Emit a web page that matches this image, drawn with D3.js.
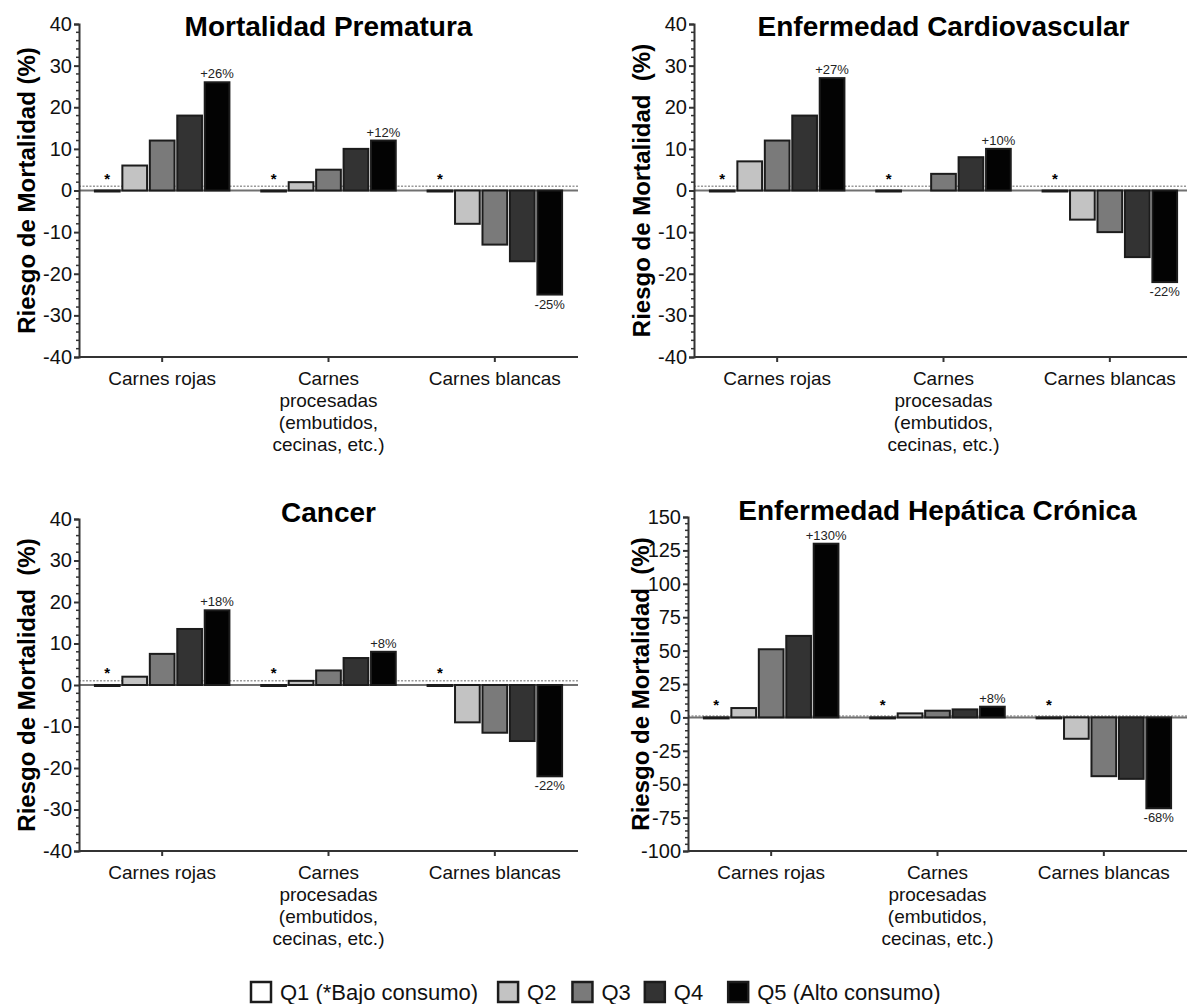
<!DOCTYPE html>
<html>
<head>
<meta charset="utf-8">
<script src="https://cdn.jsdelivr.net/npm/d3@7"></script>
<style>
  body { margin: 0; background: #fff; }
  svg { font-family: "Liberation Sans", Arial, sans-serif; }
  .ylab { white-space: pre; }
</style>
</head>
<body>
<svg id="chart" width="1187" height="1004"></svg>
<script>
// data
var groupLines = [["Carnes rojas"], ["Carnes", "procesadas", "(embutidos,", "cecinas, etc.)"], ["Carnes blancas"]];
var quintiles = ["Q1", "Q2", "Q3", "Q4", "Q5"];
var legendLabels = ["Q1 (*Bajo consumo)", "Q2", "Q3", "Q4", "Q5 (Alto consumo)"];
var titles = ["Mortalidad Prematura", "Enfermedad Cardiovascular", "Cancer", "Enfermedad Hepática Crónica"];
var yTitles = ["Riesgo de Mortalidad (%)", "Riesgo de Mortalidad  (%)", "Riesgo de Mortalidad  (%)", "Riesgo de Mortalidad  (%)"];

var valuesPrematura = [[0, 6, 12, 18, 26], [0, 2, 5, 10, 12], [0, -8, -13, -17, -25]];
var valuesCardio    = [[0, 7, 12, 18, 27], [0, null, 4, 8, 10], [0, -7, -10, -16, -22]];
var valuesCancer    = [[0, 2, 7.5, 13.5, 18], [0, 1, 3.5, 6.5, 8], [0, -9, -11.5, -13.5, -22]];
var valuesHepatica  = [[0, 7, 51, 61, 130], [0, 3, 5, 6, 8], [0, -16, -44, -46, -68]];

var labelsPrematura = ["+26%", "+12%", "-25%"];
var labelsCardio    = ["+27%", "+10%", "-22%"];
var labelsCancer    = ["+18%", "+8%", "-22%"];
var labelsHepatica  = ["+130%", "+8%", "-68%"];

var yDomains = [[-40, 40], [-40, 40], [-40, 40], [-100, 150]];
var yMajor = [10, 10, 10, 25];
var yMinor = [2, 2, 2, 5];

var fills = ["#ffffff", "#c3c3c3", "#7a7a7a", "#333333", "#030303"];

// layout of the four panels
var panels = [
  {x0: 79,  x1: 578,  top: 24,  bottom: 357, ylabX: 27,  values: valuesPrematura, labels: labelsPrematura},
  {x0: 694, x1: 1193, top: 24,  bottom: 357, ylabX: 642, values: valuesCardio,    labels: labelsCardio},
  {x0: 79,  x1: 578,  top: 519, bottom: 851, ylabX: 27,  values: valuesCancer,    labels: labelsCancer},
  {x0: 688, x1: 1187, top: 517, bottom: 851, ylabX: 641, values: valuesHepatica,  labels: labelsHepatica}
];

var svg = d3.select("#chart");

var drawPanel = function(p, k) {
  var g = svg.append("g");
  var x = d3.scaleBand().domain(d3.range(3)).range([p.x0, p.x1]);
  var xq = d3.scaleBand().domain(quintiles).range([-70, 70]).padding(0.1);
  var y = d3.scaleLinear().domain(yDomains[k]).range([p.bottom, p.top]);

  // title
  g.append("text")
   .attr("x", (p.x0 + p.x1) / 2).attr("y", p.top + (k < 2 ? 12 : 3))
   .attr("text-anchor", "middle")
   .style("font-size", "28px").style("font-weight", "bold")
   .text(titles[k]);

  // y title
  g.append("text")
   .attr("class", "ylab")
   .attr("transform", "translate(" + p.ylabX + "," + ((p.top + p.bottom) / 2) + ") rotate(-90)")
   .attr("text-anchor", "middle").attr("dy", "0.35em")
   .style("font-size", "24px").style("font-weight", "bold")
   .text(yTitles[k]);

  // dotted reference line
  g.append("line")
   .attr("x1", p.x0).attr("x2", p.x1)
   .attr("y1", y(1)).attr("y2", y(1))
   .style("stroke", "#9a9a9a").style("stroke-width", 1.5)
   .style("stroke-dasharray", "2,1.5");

  // zero line
  g.append("line")
   .attr("x1", p.x0).attr("x2", p.x1)
   .attr("y1", y(0)).attr("y2", y(0))
   .style("stroke", "#707070").style("stroke-width", 2);

  // bars
  var grp = g.selectAll("g.grp").data(p.values).enter()
    .append("g").attr("class", "grp")
    .attr("transform", function(d, i) { return "translate(" + (x(i) + x.bandwidth() / 2) + ",0)"; });

  grp.selectAll("rect").data(function(d) {
      return d.map(function(v, i) { return {q: quintiles[i], v: v, i: i}; })
              .filter(function(e) { return e.v !== null; });
    }).enter()
    .append("rect")
    .attr("x", function(e) { return xq(e.q); })
    .attr("width", xq.bandwidth())
    .attr("y", function(e) { return Math.min(y(e.v), y(0)); })
    .attr("height", function(e) { return Math.max(1, Math.abs(y(e.v) - y(0))); })
    .style("fill", function(e) { return fills[e.i]; })
    .style("stroke", "#1c1c1c").style("stroke-width", 2);

  // asterisks over Q1
  grp.append("text")
     .attr("x", xq("Q1") + xq.bandwidth() / 2)
     .attr("y", y(0) - 7)
     .attr("text-anchor", "middle")
     .style("font-size", "15px").style("font-weight", "bold")
     .text("*");

  // percent labels on Q5
  grp.append("text")
     .attr("x", xq("Q5") + xq.bandwidth() / 2)
     .attr("y", function(d) { var v = d[4]; return v >= 0 ? y(v) - 4 : y(v) + 14; })
     .attr("text-anchor", "middle")
     .style("font-size", "13px").style("fill", "#222")
     .text(function(d, i) { return p.labels[i]; });

  // y axis
  var yAxis = g.append("g").attr("transform", "translate(" + p.x0 + ",0)")
    .call(d3.axisLeft(y).tickValues(d3.range(yDomains[k][0], yDomains[k][1] + 0.01, yMajor[k]))
          .tickSize(5).tickPadding(2).tickFormat(function(v) { return String(v); }));
  yAxis.select(".domain").style("stroke", "#333").style("stroke-width", 2);
  yAxis.selectAll(".tick line").style("stroke", "#333").style("stroke-width", 2);
  yAxis.selectAll(".tick text").style("font-size", "20px").style("fill", "#111")
       .attr("font-family", "Liberation Sans, Arial, sans-serif");

  // minor ticks
  var minors = d3.range(yDomains[k][0], yDomains[k][1] + 0.01, yMinor[k])
                 .filter(function(v) { return v % yMajor[k] !== 0; });
  g.selectAll("line.minor").data(minors).enter()
   .append("line").attr("class", "minor")
   .attr("x1", p.x0 - 3).attr("x2", p.x0)
   .attr("y1", function(v) { return y(v); }).attr("y2", function(v) { return y(v); })
   .style("stroke", "#333").style("stroke-width", 1.5);

  // x axis
  var xAxis = g.append("g").attr("transform", "translate(0," + p.bottom + ")")
    .call(d3.axisBottom(x).tickSize(5).tickFormat(""));
  xAxis.select(".domain").attr("d", "M" + p.x0 + ",0H" + p.x1)
       .style("stroke", "#333").style("stroke-width", 2);
  xAxis.selectAll(".tick line").style("stroke", "#333").style("stroke-width", 2);

  // x labels
  g.selectAll("text.xlab").data(groupLines).enter()
   .append("text").attr("class", "xlab")
   .attr("text-anchor", "middle")
   .style("font-size", "19px").style("fill", "#111")
   .each(function(lines, i) {
     d3.select(this).selectAll("tspan").data(lines).enter()
       .append("tspan")
       .attr("x", x(i) + x.bandwidth() / 2)
       .attr("y", function(l, j) { return p.bottom + 28 + j * 22; })
       .text(function(l) { return l; });
   });
};

panels.forEach(drawPanel);

// legend
var legend = svg.append("g");
var items = legend.selectAll("g.item").data(legendLabels).enter()
  .append("g").attr("class", "item");
items.append("rect")
  .attr("width", 20).attr("height", 20)
  .attr("y", 982)
  .style("fill", function(d, i) { return fills[i]; })
  .style("stroke", "#1c1c1c").style("stroke-width", 2.5);
items.append("text")
  .attr("x", 29).attr("y", 1000)
  .style("font-size", "22px").style("fill", "#111")
  .text(function(d) { return d; });

var gaps = [20, 16, 14, 25];
var cx = 251;
items.each(function(d, i) {
  d3.select(this).attr("transform", "translate(" + cx + ",0)");
  var w = d3.select(this).select("text").node().getComputedTextLength();
  cx += 29 + w + (gaps[i] || 0);
});
</script>
</body>
</html>
